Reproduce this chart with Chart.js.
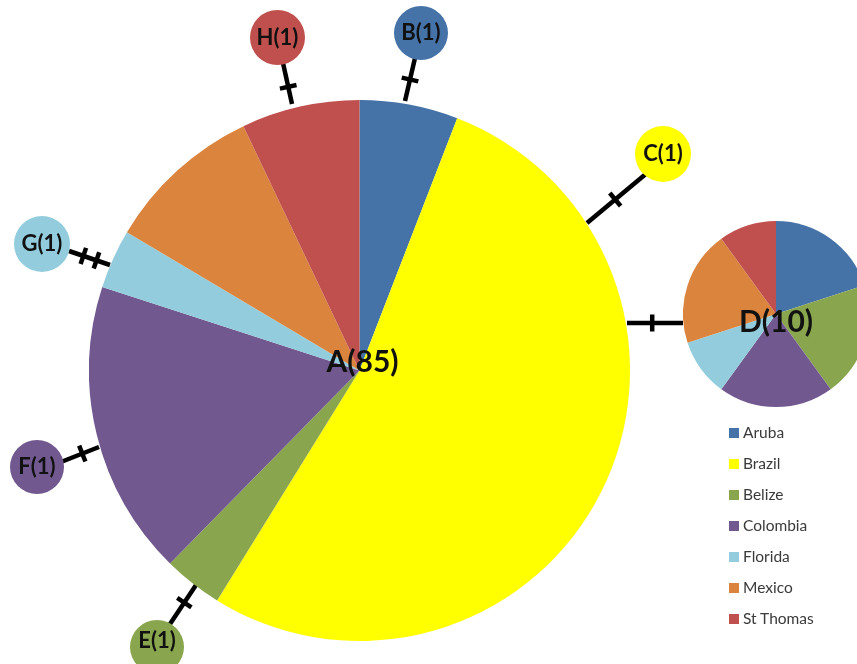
<!DOCTYPE html>
<html>
<head>
<meta charset="utf-8">
<script src="https://cdn.jsdelivr.net/npm/chart.js@4.4.1/dist/chart.umd.min.js"></script>
<style>
  html, body { margin:0; padding:0; background:#fff; }
  #stage { position:relative; width:857px; height:664px; overflow:hidden; background:#fff; }
  #stage canvas { position:absolute; }
  .leg { position:absolute; font-family:Lato, "Open Sans", sans-serif; font-size:15.5px; color:#3a3a3a; white-space:nowrap; }
  .leg span.sw { display:inline-block; width:10px; height:10px; margin-right:4px; vertical-align:0px; }
</style>
</head>
<body>
<div id="stage"></div>
<script>
// ---- data ----
const categories = ['Aruba', 'Brazil', 'Belize', 'Colombia', 'Florida', 'Mexico', 'St Thomas'];
const colors = ['#4572A7', '#FFFF00', '#89A54E', '#71588F', '#93CDDD', '#DB843D', '#C0504D'];
const hapA = [5, 45, 3, 15, 3, 8, 6];
const hapD = [2, 0, 2, 2, 1, 2, 1];
const hapB = [1, 0, 0, 0, 0, 0, 0];
const hapC = [0, 1, 0, 0, 0, 0, 0];
const hapE = [0, 0, 1, 0, 0, 0, 0];
const hapF = [0, 0, 0, 1, 0, 0, 0];
const hapG = [0, 0, 0, 0, 1, 0, 0];
const hapH = [0, 0, 0, 0, 0, 0, 1];
const haplotypeNames = ['A', 'B', 'C', 'D', 'E', 'F', 'G', 'H'];
const mutationSteps = { B: 1, C: 1, D: 1, E: 1, F: 1, G: 2, H: 1 };

// ---- layout (positions only) ----
const layout = {
  A: { cx: 359.5, cy: 370, r: 270.5, font: 'bold 30px Lato', lx: 3, ly: -8 },
  D: { cx: 776, cy: 314, r: 93, font: 'bold 30px Lato', lx: 0, ly: 8 },
  B: { cx: 421, cy: 33, r: 27, font: 'bold 22px Lato', lx: 0, ly: 0 },
  C: { cx: 663, cy: 154, r: 28, font: 'bold 22px Lato', lx: 0, ly: 0 },
  E: { cx: 157, cy: 647, r: 27, font: 'bold 22px Lato', lx: 0, ly: -6 },
  F: { cx: 36.5, cy: 466.5, r: 27, font: 'bold 22px Lato', lx: 0, ly: 0 },
  G: { cx: 41.5, cy: 243.5, r: 28, font: 'bold 22px Lato', lx: 0, ly: 0 },
  H: { cx: 277.5, cy: 37.5, r: 27.5, font: 'bold 22px Lato', lx: 0, ly: 0 }
};
// edge segments: start (on A) -> end (on target), tick fractions
const edgeLayout = {
  B: { x1: 405, y1: 101, x2: 415, y2: 58, t: [0.5] },
  H: { x1: 292, y1: 104, x2: 283, y2: 63, t: [0.42] },
  C: { x1: 587, y1: 223, x2: 647, y2: 173, t: [0.47] },
  D: { x1: 627, y1: 323, x2: 683, y2: 323, t: [0.45] },
  E: { x1: 196, y1: 585, x2: 170, y2: 624, t: [0.45] },
  F: { x1: 99, y1: 447, x2: 61, y2: 462, t: [0.44] },
  G: { x1: 110, y1: 265, x2: 69, y2: 251, t: [0.33, 0.65] }
};

const stage = document.getElementById('stage');
Chart.defaults.font.family = 'Lato';

// ---- background chart for the network edges ----
const bg = document.createElement('canvas');
bg.width = 857; bg.height = 664; bg.style.left = '0px'; bg.style.top = '0px';
stage.appendChild(bg);
const edgeNames = Object.keys(mutationSteps);
new Chart(bg, {
  type: 'scatter',
  data: { datasets: edgeNames.map(n => ({
    data: [{ x: edgeLayout[n].x1, y: edgeLayout[n].y1 }, { x: edgeLayout[n].x2, y: edgeLayout[n].y2 }],
    showLine: true, borderColor: '#000', borderWidth: 4.5, pointRadius: 0, borderCapStyle: 'butt'
  })) },
  options: {
    responsive: false, animation: false, devicePixelRatio: 1, events: [],
    layout: { padding: 0 },
    plugins: { legend: { display: false }, tooltip: { enabled: false } },
    scales: {
      x: { type: 'linear', min: 0, max: 857, display: false },
      y: { type: 'linear', min: 0, max: 664, reverse: true, display: false }
    }
  },
  plugins: [{
    id: 'ticks',
    afterDatasetsDraw(chart) {
      const ctx = chart.ctx, xs = chart.scales.x, ys = chart.scales.y;
      ctx.save();
      ctx.strokeStyle = '#000'; ctx.lineWidth = 4.5; ctx.lineCap = 'butt';
      edgeNames.forEach(n => {
        const e = edgeLayout[n];
        const x1 = xs.getPixelForValue(e.x1), y1 = ys.getPixelForValue(e.y1);
        const x2 = xs.getPixelForValue(e.x2), y2 = ys.getPixelForValue(e.y2);
        const len = Math.hypot(x2 - x1, y2 - y1);
        const ux = (x2 - x1) / len, uy = (y2 - y1) / len;
        const px = -uy, py = ux, h = 8.5;
        for (let k = 0; k < mutationSteps[n]; k++) {
          const f = e.t[k];
          const mx = x1 + (x2 - x1) * f, my = y1 + (y2 - y1) * f;
          ctx.beginPath();
          ctx.moveTo(mx - px * h, my - py * h);
          ctx.lineTo(mx + px * h, my + py * h);
          ctx.stroke();
        }
      });
      ctx.restore();
    }
  }]
});

// ---- pies ----
const hapData = { A: hapA, B: hapB, C: hapC, D: hapD, E: hapE, F: hapF, G: hapG, H: hapH };
haplotypeNames.forEach(name => {
  const L = layout[name];
  const values = hapData[name];
  const total = values.reduce((a, b) => a + b, 0);
  const size = Math.round(L.r * 2);
  const cv = document.createElement('canvas');
  cv.width = size; cv.height = size;
  cv.style.left = (L.cx - size / 2) + 'px';
  cv.style.top = (L.cy - size / 2) + 'px';
  stage.appendChild(cv);
  new Chart(cv, {
    type: 'pie',
    data: { labels: categories, datasets: [{ data: values, backgroundColor: colors, borderWidth: 0, hoverOffset: 0, offset: 0 }] },
    options: {
      responsive: false, animation: false, devicePixelRatio: 1, events: [],
      layout: { padding: 0 },
      plugins: { legend: { display: false }, tooltip: { enabled: false } }
    },
    plugins: [{
      id: 'label',
      afterDatasetsDraw(chart) {
        const ctx = chart.ctx;
        const arc = chart.getDatasetMeta(0).data[0];
        ctx.save();
        ctx.font = L.font;
        ctx.fillStyle = '#111';
        ctx.textAlign = 'center';
        ctx.textBaseline = 'middle';
        ctx.fillText(name + '(' + total + ')', arc.x + L.lx, arc.y + L.ly);
        ctx.restore();
      }
    }]
  });
});

// ---- legend ----
categories.forEach((c, i) => {
  const d = document.createElement('div');
  d.className = 'leg';
  d.style.left = '729px';
  d.style.top = (423 + i * 31) + 'px';
  d.innerHTML = '<span class="sw" style="background:' + colors[i] + '"></span>' + c;
  stage.appendChild(d);
});
</script>
</body>
</html>
